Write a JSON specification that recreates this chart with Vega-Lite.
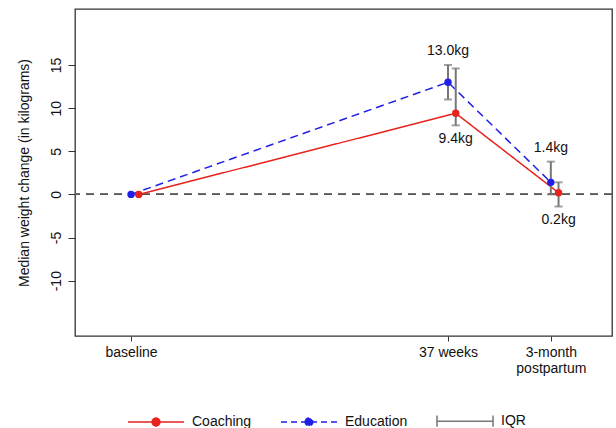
{
  "$schema": "https://vega.github.io/schema/vega-lite/v6.json",
  "width": 537,
  "height": 327,
  "autosize": {"type": "none"},
  "padding": {"left": 75, "top": 9, "right": 4, "bottom": 92},
  "background": "white",
  "config": {
    "font": "Liberation Sans",
    "view": {"stroke": "#333333", "strokeWidth": 1.3},
    "axis": {"grid": false, "domain": false, "tickColor": "#333333", "labelColor": "#111111", "labelFontSize": 14, "titleFontSize": 14, "titleFontWeight": "normal", "titleColor": "#111111"}
  },
  "data": {
    "values": [
      {"series": "Education", "time": "baseline", "week": 0, "median": 0, "lo": null, "hi": null, "label": ""},
      {"series": "Education", "time": "37 weeks", "week": 37, "median": 13.0, "lo": 11.0, "hi": 15.0, "label": "13.0kg"},
      {"series": "Education", "time": "3-month postpartum", "week": 49, "median": 1.4, "lo": 0.0, "hi": 3.8, "label": "1.4kg"},
      {"series": "Coaching", "time": "baseline", "week": 0.9, "median": 0, "lo": null, "hi": null, "label": ""},
      {"series": "Coaching", "time": "37 weeks", "week": 37.9, "median": 9.4, "lo": 8.0, "hi": 14.6, "label": "9.4kg"},
      {"series": "Coaching", "time": "3-month postpartum", "week": 49.9, "median": 0.2, "lo": -1.4, "hi": 1.4, "label": "0.2kg"}
    ]
  },
  "encoding": {
    "x": {
      "field": "week", "type": "quantitative",
      "scale": {"domain": [-6.54, 56.14], "nice": false, "zero": false},
      "axis": {
        "values": [0, 37, 49], "title": null, "tickSize": 5, "labelPadding": 4,
        "labelLineHeight": 16, "labelBaseline": "top",
        "labelExpr": "datum.value == 0 ? 'baseline' : datum.value == 37 ? '37 weeks' : ['3-month', 'postpartum']"
      }
    },
    "y": {
      "field": "median", "type": "quantitative",
      "scale": {"domain": [-16.41, 21.49], "nice": false, "zero": false},
      "axis": {
        "values": [-10, -5, 0, 5, 10, 15], "title": "Median weight change  (in kilograms)",
        "labelExpr": "'' + datum.value",
        "tickSize": 7, "labelAngle": 270, "labelAlign": "center", "labelBaseline": "bottom", "labelPadding": 5, "titlePadding": 18
      }
    }
  },
  "layer": [
    {
      "mark": {"type": "rule", "color": "#555555", "strokeDash": [8, 6], "strokeWidth": 1.3},
      "encoding": {"y": {"datum": 0}, "x": null}
    },
    {
      "mark": {"type": "line", "strokeWidth": 1.5},
      "encoding": {
        "color": {
          "field": "series", "type": "nominal",
          "scale": {"domain": ["Coaching", "Education", "IQR"], "range": ["#e8221c", "#1f1fe6", "#777777"]},
          "legend": {
            "orient": "none", "legendX": 52, "legendY": 383, "direction": "horizontal", "title": null, "padding": 0,
            "symbolSize": 3136, "symbolStrokeWidth": 1.5, "labelFontSize": 14, "labelColor": "#111111",
            "labelOffset": 7, "columnPadding": 26,
            "encode": {
              "symbols": {
                "update": {
                  "shape": {"signal": "datum.value === 'IQR' ? 'M-1,-0.2L-1,0.2M-1,0L1,0M1,-0.2L1,0.2' : 'M-1,0L1,0M-0.14,0A0.14,0.14,0,1,1,0.14,0A0.14,0.14,0,1,1,-0.14,0Z'"},
                  "strokeDash": {"signal": "datum.value === 'Education' ? [6, 4] : [1, 0]"},
                  "fill": {"signal": "datum.value === 'IQR' ? 'transparent' : (datum.value === 'Coaching' ? '#e8221c' : '#1f1fe6')"},
                  "stroke": {"signal": "datum.value === 'IQR' ? '#777777' : (datum.value === 'Coaching' ? '#e8221c' : '#1f1fe6')"},
                  "opacity": {"value": 1},
                  "fillOpacity": {"value": 1},
                  "strokeWidth": {"value": 1.5}
                }
              }
            }
          }
        },
        "strokeDash": {
          "field": "series", "type": "nominal",
          "scale": {"domain": ["Coaching", "Education"], "range": [[1, 0], [8, 5]]},
          "legend": null
        },
        "order": {"field": "week"}
      }
    },
    {
      "transform": [{"filter": "datum.lo != null"}],
      "mark": {"type": "rule", "color": "#777777", "strokeWidth": 2},
      "encoding": {"y": {"field": "lo", "type": "quantitative"}, "y2": {"field": "hi"}}
    },
    {
      "transform": [{"filter": "datum.lo != null"}, {"fold": ["lo", "hi"], "as": ["end", "val"]}],
      "mark": {"type": "tick", "orient": "horizontal", "color": "#777777", "size": 8, "thickness": 2},
      "encoding": {"y": {"field": "val", "type": "quantitative"}}
    },
    {
      "mark": {"type": "point", "filled": true, "opacity": 1, "size": 55},
      "encoding": {"color": {"field": "series", "type": "nominal"}}
    },
    {
      "transform": [{"filter": "datum.series === 'Education' && datum.label != ''"}],
      "mark": {"type": "text", "baseline": "bottom", "dy": -7, "fontSize": 14, "color": "#111111"},
      "encoding": {"y": {"field": "hi", "type": "quantitative"}, "text": {"field": "label"}}
    },
    {
      "transform": [{"filter": "datum.series === 'Coaching' && datum.label != ''"}],
      "mark": {"type": "text", "baseline": "top", "dy": 7, "fontSize": 14, "color": "#111111"},
      "encoding": {"y": {"field": "lo", "type": "quantitative"}, "text": {"field": "label"}}
    }
  ]
}
